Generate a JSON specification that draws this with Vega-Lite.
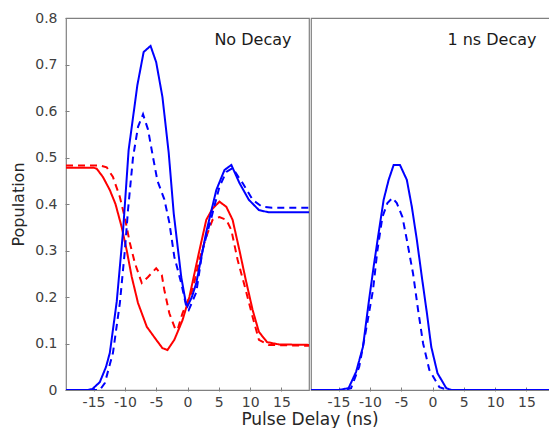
{
  "$schema": "https://vega.github.io/schema/vega-lite/v6.json",
  "padding": {"left": 10, "top": 11, "right": 0, "bottom": 0},
  "background": "white",
  "data": {"values": [
    {"panel": "No Decay", "label": "No Decay"},
    {"panel": "1 ns Decay", "label": "1 ns Decay"},

    {"panel": "No Decay", "series": "R exact", "t": -19.4, "v": 0.478},
    {"panel": "No Decay", "series": "R exact", "t": -15, "v": 0.478},
    {"panel": "No Decay", "series": "R exact", "t": -14.5, "v": 0.476},
    {"panel": "No Decay", "series": "R exact", "t": -13.5, "v": 0.458},
    {"panel": "No Decay", "series": "R exact", "t": -12.4, "v": 0.43},
    {"panel": "No Decay", "series": "R exact", "t": -11.5, "v": 0.4},
    {"panel": "No Decay", "series": "R exact", "t": -10.5, "v": 0.35},
    {"panel": "No Decay", "series": "R exact", "t": -9.7, "v": 0.3},
    {"panel": "No Decay", "series": "R exact", "t": -8.9, "v": 0.243},
    {"panel": "No Decay", "series": "R exact", "t": -7.9, "v": 0.187},
    {"panel": "No Decay", "series": "R exact", "t": -6.5, "v": 0.136},
    {"panel": "No Decay", "series": "R exact", "t": -5, "v": 0.108},
    {"panel": "No Decay", "series": "R exact", "t": -4, "v": 0.09},
    {"panel": "No Decay", "series": "R exact", "t": -3.2, "v": 0.086},
    {"panel": "No Decay", "series": "R exact", "t": -2.1, "v": 0.108},
    {"panel": "No Decay", "series": "R exact", "t": -0.8, "v": 0.15},
    {"panel": "No Decay", "series": "R exact", "t": 0.3, "v": 0.2},
    {"panel": "No Decay", "series": "R exact", "t": 1.9, "v": 0.3},
    {"panel": "No Decay", "series": "R exact", "t": 3, "v": 0.366},
    {"panel": "No Decay", "series": "R exact", "t": 4, "v": 0.39},
    {"panel": "No Decay", "series": "R exact", "t": 5.1, "v": 0.405},
    {"panel": "No Decay", "series": "R exact", "t": 6.2, "v": 0.394},
    {"panel": "No Decay", "series": "R exact", "t": 7.2, "v": 0.366},
    {"panel": "No Decay", "series": "R exact", "t": 8.3, "v": 0.3},
    {"panel": "No Decay", "series": "R exact", "t": 9.3, "v": 0.237},
    {"panel": "No Decay", "series": "R exact", "t": 10.4, "v": 0.172},
    {"panel": "No Decay", "series": "R exact", "t": 11.4, "v": 0.125},
    {"panel": "No Decay", "series": "R exact", "t": 12.7, "v": 0.103},
    {"panel": "No Decay", "series": "R exact", "t": 14.6, "v": 0.098},
    {"panel": "No Decay", "series": "R exact", "t": 19.4, "v": 0.097},

    {"panel": "No Decay", "series": "R approx", "t": -19.4, "v": 0.483},
    {"panel": "No Decay", "series": "R approx", "t": -14, "v": 0.483},
    {"panel": "No Decay", "series": "R approx", "t": -12.9, "v": 0.479},
    {"panel": "No Decay", "series": "R approx", "t": -11.9, "v": 0.458},
    {"panel": "No Decay", "series": "R approx", "t": -10.8, "v": 0.415},
    {"panel": "No Decay", "series": "R approx", "t": -10, "v": 0.37},
    {"panel": "No Decay", "series": "R approx", "t": -9.2, "v": 0.316},
    {"panel": "No Decay", "series": "R approx", "t": -8.4, "v": 0.273},
    {"panel": "No Decay", "series": "R approx", "t": -7.3, "v": 0.23},
    {"panel": "No Decay", "series": "R approx", "t": -6.3, "v": 0.243},
    {"panel": "No Decay", "series": "R approx", "t": -5, "v": 0.262},
    {"panel": "No Decay", "series": "R approx", "t": -4.1, "v": 0.247},
    {"panel": "No Decay", "series": "R approx", "t": -3.7, "v": 0.215},
    {"panel": "No Decay", "series": "R approx", "t": -2.9, "v": 0.165},
    {"panel": "No Decay", "series": "R approx", "t": -2, "v": 0.133},
    {"panel": "No Decay", "series": "R approx", "t": -1.6, "v": 0.129},
    {"panel": "No Decay", "series": "R approx", "t": -0.8, "v": 0.165},
    {"panel": "No Decay", "series": "R approx", "t": 0.8, "v": 0.215},
    {"panel": "No Decay", "series": "R approx", "t": 1.9, "v": 0.28},
    {"panel": "No Decay", "series": "R approx", "t": 3, "v": 0.33},
    {"panel": "No Decay", "series": "R approx", "t": 4, "v": 0.366},
    {"panel": "No Decay", "series": "R approx", "t": 5.1, "v": 0.372},
    {"panel": "No Decay", "series": "R approx", "t": 6.2, "v": 0.366},
    {"panel": "No Decay", "series": "R approx", "t": 7, "v": 0.344},
    {"panel": "No Decay", "series": "R approx", "t": 8, "v": 0.28},
    {"panel": "No Decay", "series": "R approx", "t": 9.3, "v": 0.215},
    {"panel": "No Decay", "series": "R approx", "t": 10.4, "v": 0.157},
    {"panel": "No Decay", "series": "R approx", "t": 11.4, "v": 0.108},
    {"panel": "No Decay", "series": "R approx", "t": 13, "v": 0.097},
    {"panel": "No Decay", "series": "R approx", "t": 19.4, "v": 0.095},

    {"panel": "No Decay", "series": "B exact", "t": -19.4, "v": 0},
    {"panel": "No Decay", "series": "B exact", "t": -16, "v": 0},
    {"panel": "No Decay", "series": "B exact", "t": -15.2, "v": 0.002},
    {"panel": "No Decay", "series": "B exact", "t": -14, "v": 0.017},
    {"panel": "No Decay", "series": "B exact", "t": -13, "v": 0.05},
    {"panel": "No Decay", "series": "B exact", "t": -12.4, "v": 0.08},
    {"panel": "No Decay", "series": "B exact", "t": -11.3, "v": 0.19},
    {"panel": "No Decay", "series": "B exact", "t": -10.3, "v": 0.34},
    {"panel": "No Decay", "series": "B exact", "t": -9.4, "v": 0.516},
    {"panel": "No Decay", "series": "B exact", "t": -8, "v": 0.656},
    {"panel": "No Decay", "series": "B exact", "t": -7, "v": 0.727},
    {"panel": "No Decay", "series": "B exact", "t": -5.9, "v": 0.74},
    {"panel": "No Decay", "series": "B exact", "t": -5, "v": 0.705},
    {"panel": "No Decay", "series": "B exact", "t": -4, "v": 0.63},
    {"panel": "No Decay", "series": "B exact", "t": -3, "v": 0.51},
    {"panel": "No Decay", "series": "B exact", "t": -2.2, "v": 0.38},
    {"panel": "No Decay", "series": "B exact", "t": -1, "v": 0.243},
    {"panel": "No Decay", "series": "B exact", "t": -0.3, "v": 0.19},
    {"panel": "No Decay", "series": "B exact", "t": 0, "v": 0.18},
    {"panel": "No Decay", "series": "B exact", "t": 0.7, "v": 0.2},
    {"panel": "No Decay", "series": "B exact", "t": 1.4, "v": 0.23},
    {"panel": "No Decay", "series": "B exact", "t": 3, "v": 0.34},
    {"panel": "No Decay", "series": "B exact", "t": 4.6, "v": 0.43},
    {"panel": "No Decay", "series": "B exact", "t": 5.9, "v": 0.473},
    {"panel": "No Decay", "series": "B exact", "t": 7, "v": 0.484},
    {"panel": "No Decay", "series": "B exact", "t": 8.3, "v": 0.445},
    {"panel": "No Decay", "series": "B exact", "t": 9.8, "v": 0.409},
    {"panel": "No Decay", "series": "B exact", "t": 11.4, "v": 0.387},
    {"panel": "No Decay", "series": "B exact", "t": 13, "v": 0.382},
    {"panel": "No Decay", "series": "B exact", "t": 19.4, "v": 0.382},

    {"panel": "No Decay", "series": "B approx", "t": -19.4, "v": 0},
    {"panel": "No Decay", "series": "B approx", "t": -14, "v": 0},
    {"panel": "No Decay", "series": "B approx", "t": -13.2, "v": 0.015},
    {"panel": "No Decay", "series": "B approx", "t": -11.9, "v": 0.08},
    {"panel": "No Decay", "series": "B approx", "t": -10.8, "v": 0.187},
    {"panel": "No Decay", "series": "B approx", "t": -10, "v": 0.3},
    {"panel": "No Decay", "series": "B approx", "t": -9.5, "v": 0.387},
    {"panel": "No Decay", "series": "B approx", "t": -8.7, "v": 0.5},
    {"panel": "No Decay", "series": "B approx", "t": -7.9, "v": 0.566},
    {"panel": "No Decay", "series": "B approx", "t": -7.1, "v": 0.593},
    {"panel": "No Decay", "series": "B approx", "t": -6.3, "v": 0.56},
    {"panel": "No Decay", "series": "B approx", "t": -5.5, "v": 0.5},
    {"panel": "No Decay", "series": "B approx", "t": -4.8, "v": 0.45},
    {"panel": "No Decay", "series": "B approx", "t": -3.7, "v": 0.41},
    {"panel": "No Decay", "series": "B approx", "t": -2.9, "v": 0.36},
    {"panel": "No Decay", "series": "B approx", "t": -2.1, "v": 0.286},
    {"panel": "No Decay", "series": "B approx", "t": -1, "v": 0.23},
    {"panel": "No Decay", "series": "B approx", "t": -0.2, "v": 0.18},
    {"panel": "No Decay", "series": "B approx", "t": 0.2, "v": 0.172},
    {"panel": "No Decay", "series": "B approx", "t": 1.4, "v": 0.21},
    {"panel": "No Decay", "series": "B approx", "t": 2.4, "v": 0.3},
    {"panel": "No Decay", "series": "B approx", "t": 3.8, "v": 0.37},
    {"panel": "No Decay", "series": "B approx", "t": 5.1, "v": 0.437},
    {"panel": "No Decay", "series": "B approx", "t": 6.2, "v": 0.469},
    {"panel": "No Decay", "series": "B approx", "t": 7.2, "v": 0.477},
    {"panel": "No Decay", "series": "B approx", "t": 8.8, "v": 0.445},
    {"panel": "No Decay", "series": "B approx", "t": 10.4, "v": 0.409},
    {"panel": "No Decay", "series": "B approx", "t": 11.9, "v": 0.394},
    {"panel": "No Decay", "series": "B approx", "t": 13.5, "v": 0.392},
    {"panel": "No Decay", "series": "B approx", "t": 19.4, "v": 0.392},

    {"panel": "1 ns Decay", "series": "B exact", "t": -19.4, "v": 0},
    {"panel": "1 ns Decay", "series": "B exact", "t": -15, "v": 0},
    {"panel": "1 ns Decay", "series": "B exact", "t": -13.4, "v": 0.004},
    {"panel": "1 ns Decay", "series": "B exact", "t": -12.2, "v": 0.039},
    {"panel": "1 ns Decay", "series": "B exact", "t": -11.1, "v": 0.093},
    {"panel": "1 ns Decay", "series": "B exact", "t": -10.2, "v": 0.187},
    {"panel": "1 ns Decay", "series": "B exact", "t": -9.4, "v": 0.265},
    {"panel": "1 ns Decay", "series": "B exact", "t": -8.6, "v": 0.338},
    {"panel": "1 ns Decay", "series": "B exact", "t": -7.8, "v": 0.409},
    {"panel": "1 ns Decay", "series": "B exact", "t": -7, "v": 0.452},
    {"panel": "1 ns Decay", "series": "B exact", "t": -6.2, "v": 0.484},
    {"panel": "1 ns Decay", "series": "B exact", "t": -5.2, "v": 0.484},
    {"panel": "1 ns Decay", "series": "B exact", "t": -4.1, "v": 0.452},
    {"panel": "1 ns Decay", "series": "B exact", "t": -3.3, "v": 0.394},
    {"panel": "1 ns Decay", "series": "B exact", "t": -2.5, "v": 0.323},
    {"panel": "1 ns Decay", "series": "B exact", "t": -1.7, "v": 0.243},
    {"panel": "1 ns Decay", "series": "B exact", "t": -0.9, "v": 0.166},
    {"panel": "1 ns Decay", "series": "B exact", "t": -0.2, "v": 0.093},
    {"panel": "1 ns Decay", "series": "B exact", "t": 0.8, "v": 0.036},
    {"panel": "1 ns Decay", "series": "B exact", "t": 2.2, "v": 0.004},
    {"panel": "1 ns Decay", "series": "B exact", "t": 3, "v": 0},
    {"panel": "1 ns Decay", "series": "B exact", "t": 19.4, "v": 0},

    {"panel": "1 ns Decay", "series": "B approx", "t": -19.4, "v": 0},
    {"panel": "1 ns Decay", "series": "B approx", "t": -14, "v": 0},
    {"panel": "1 ns Decay", "series": "B approx", "t": -13, "v": 0.004},
    {"panel": "1 ns Decay", "series": "B approx", "t": -11.7, "v": 0.05},
    {"panel": "1 ns Decay", "series": "B approx", "t": -10.6, "v": 0.13},
    {"panel": "1 ns Decay", "series": "B approx", "t": -9.5, "v": 0.215},
    {"panel": "1 ns Decay", "series": "B approx", "t": -8.8, "v": 0.3},
    {"panel": "1 ns Decay", "series": "B approx", "t": -8, "v": 0.372},
    {"panel": "1 ns Decay", "series": "B approx", "t": -7.2, "v": 0.402},
    {"panel": "1 ns Decay", "series": "B approx", "t": -6.4, "v": 0.413},
    {"panel": "1 ns Decay", "series": "B approx", "t": -5.7, "v": 0.402},
    {"panel": "1 ns Decay", "series": "B approx", "t": -4.8, "v": 0.372},
    {"panel": "1 ns Decay", "series": "B approx", "t": -4.1, "v": 0.323},
    {"panel": "1 ns Decay", "series": "B approx", "t": -3.1, "v": 0.25},
    {"panel": "1 ns Decay", "series": "B approx", "t": -2.3, "v": 0.172},
    {"panel": "1 ns Decay", "series": "B approx", "t": -1.5, "v": 0.1},
    {"panel": "1 ns Decay", "series": "B approx", "t": -0.5, "v": 0.043},
    {"panel": "1 ns Decay", "series": "B approx", "t": 1.1, "v": 0.006},
    {"panel": "1 ns Decay", "series": "B approx", "t": 2.5, "v": 0},
    {"panel": "1 ns Decay", "series": "B approx", "t": 19.4, "v": 0}
  ]},
  "facet": {
    "column": {
      "field": "panel",
      "type": "nominal",
      "sort": ["No Decay", "1 ns Decay"],
      "title": "Pulse Delay (ns)",
      "header": {
        "labels": false,
        "titleOrient": "bottom",
        "titleFont": "DejaVu Sans",
        "titleFontSize": 17,
        "titleFontWeight": "normal",
        "titleColor": "#262626",
        "titlePadding": -7
      }
    }
  },
  "spacing": 0,
  "spec": {
    "width": 243,
    "height": 372,
    "layer": [
      {
        "transform": [{"filter": "isValid(datum.t)"}],
        "mark": {"type": "line", "strokeWidth": 2, "clip": true},
        "encoding": {
          "x": {
            "field": "t", "type": "quantitative",
            "scale": {"domain": [-19.4, 19.4], "nice": false, "zero": false},
            "axis": {
              "title": null,
              "values": [-15, -10, -5, 0, 5, 10, 15],
              "labelExpr": "datum.value < 0 ? '-' + abs(datum.value) : '' + datum.value"
            }
          },
          "y": {
            "field": "v", "type": "quantitative",
            "scale": {"domain": [0, 0.8], "nice": false},
            "axis": {
              "title": "Population",
              "values": [0, 0.1, 0.2, 0.3, 0.4, 0.5, 0.6, 0.7, 0.8],
              "labelExpr": "datum.value == 0 ? '0' : format(datum.value, '.1f')"
            }
          },
          "color": {
            "field": "series", "type": "nominal",
            "scale": {"domain": ["R exact", "R approx", "B exact", "B approx"], "range": ["#ff0000", "#ff0000", "#0000ff", "#0000ff"]},
            "legend": null
          },
          "strokeDash": {
            "field": "series", "type": "nominal",
            "scale": {"domain": ["R exact", "R approx", "B exact", "B approx"], "range": [[1, 0], [7, 5], [1, 0], [7, 5]]},
            "legend": null
          },
          "order": {"field": "t", "type": "quantitative"}
        }
      },
      {
        "transform": [{"filter": "isValid(datum.label)"}],
        "mark": {"type": "text", "align": "right", "baseline": "middle", "font": "DejaVu Sans", "fontSize": 16, "color": "#1a1a1a"},
        "encoding": {
          "x": {"datum": 16.6, "type": "quantitative"},
          "y": {"datum": 0.752, "type": "quantitative"},
          "text": {"field": "label"}
        }
      }
    ]
  },
  "config": {
    "font": "DejaVu Sans",
    "view": {"stroke": "#808080", "strokeWidth": 1.2},
    "axis": {
      "grid": false,
      "domain": false,
      "tickColor": "#808080",
      "tickSize": -4,
      "labelPadding": 12,
      "labelFont": "DejaVu Sans",
      "labelFontSize": 14,
      "labelColor": "#404040",
      "titleFont": "DejaVu Sans",
      "titleFontWeight": "normal",
      "titleColor": "#262626"
    },
    "axisX": {"labelPadding": 8},
    "axisY": {"titleFontSize": 16, "titlePadding": 8}
  }
}
